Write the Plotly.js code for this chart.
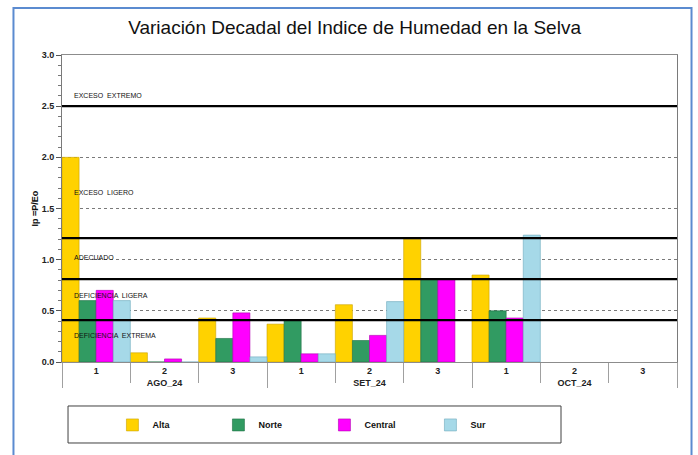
<!DOCTYPE html>
<html>
<head>
<meta charset="utf-8">
<script src="https://cdn.plot.ly/plotly-3.0.1.min.js"></script>
<style>html,body{margin:0;padding:0;background:#fff;} #chart{width:698px;height:455px;}</style>
</head>
<body>
<div id="chart"></div>
<script>
// ---- data ----
var months = ['AGO_24', 'SET_24', 'OCT_24'];
var decades = ['1', '2', '3'];
var seriesNames = ['Alta', 'Norte', 'Central', 'Sur'];
var alta    = [2.00, 0.09, 0.43, 0.37, 0.56, 1.20, 0.85, null, null];
var norte   = [0.60, 0.00, 0.23, 0.41, 0.21, 0.81, 0.50, null, null];
var central = [0.70, 0.03, 0.48, 0.08, 0.26, 0.81, 0.43, null, null];
var sur     = [0.60, 0.00, 0.05, 0.08, 0.59, null, 1.24, null, null];
var thresholds = [2.5, 1.21, 0.81, 0.41];
var zoneLabels = ['EXCESO  EXTREMO', 'EXCESO  LIGERO', 'ADECUADO', 'DEFICIENCIA  LIGERA', 'DEFICIENCIA  EXTREMA'];
var zoneLabelY = [2.60, 1.66, 1.02, 0.65, 0.26];

// ---- build ----
var outer = [], inner = [];
months.forEach(function (m) { decades.forEach(function (d) { outer.push(m); inner.push(d); }); });
var FONT = "'Liberation Sans Narrow', 'Arial Narrow', 'Liberation Sans', sans-serif";
var colors = ['#FFD200', '#319B62', '#FF00FF', '#A6D9E8'];
var lineColors = ['#C9A200', '#1F6E44', '#B000B0', '#6FA9BC'];
var vals = [alta, norte, central, sur];
var traces = vals.map(function (v, i) {
  return {
    type: 'bar', name: seriesNames[i], x: [outer, inner], y: v,
    marker: {color: colors[i], line: {color: lineColors[i], width: 0.6}},
    hoverinfo: 'skip'
  };
});

var shapes = thresholds.map(function (t) {
  return {type: 'line', xref: 'paper', x0: 0, x1: 1, yref: 'y', y0: t, y1: t,
          line: {color: '#000', width: 2.2}, layer: 'above'};
});
// legend box
shapes.push({type: 'rect', xref: 'paper', yref: 'paper', x0: 0.0098, x1: 0.8114, y0: -0.2638, y1: -0.1433,
             line: {color: '#404040', width: 1}, fillcolor: 'rgba(0,0,0,0)'});
// outer chart border
shapes.push({type: 'rect', xref: 'paper', yref: 'paper', x0: -0.0789, x1: 1.0236, y0: -0.35, y1: 1.153,
             line: {color: '#5B8BD0', width: 2}, fillcolor: 'rgba(0,0,0,0)'});

var annotations = zoneLabels.map(function (t, i) {
  return {text: t, xref: 'paper', x: 0.016, xanchor: 'left', yref: 'y', y: zoneLabelY[i], yanchor: 'middle',
          showarrow: false, font: {family: FONT, size: 7, color: '#111'}};
});

var layout = {
  width: 698, height: 455,
  margin: {l: 62, r: 21, t: 55, b: 93},
  paper_bgcolor: '#fff', plot_bgcolor: '#fff',
  font: {family: FONT, color: '#222'},
  title: {text: 'Variación Decadal del Indice de Humedad en la Selva',
          font: {family: FONT, size: 19, color: '#111'}, x: 0.508, xanchor: 'center', y: 0.94, yanchor: 'middle'},
  barmode: 'group', bargap: 0, bargroupgap: 0,
  showlegend: true,
  legend: {orientation: 'h', x: 0.082, xanchor: 'left', y: -0.205, yanchor: 'middle',
           font: {family: FONT, size: 9, color: '#111', weight: 'bold'},
           entrywidth: 61, entrywidthmode: 'pixels', itemclick: false, bgcolor: 'rgba(0,0,0,0)',
           traceorder: 'normal'},
  xaxis: {type: 'multicategory', showline: true, linecolor: '#8c8c8c', linewidth: 1, mirror: true,
          ticks: 'outside', ticklen: 20, tickcolor: '#a0a0a0', showgrid: false,
          showdividers: true, dividercolor: '#a0a0a0', dividerwidth: 1,
          tickfont: {family: FONT, size: 9, color: '#222', weight: 'bold'}},
  yaxis: {range: [0, 3], dtick: 0.5, tickformat: '.1f', showline: true, linecolor: '#7a7a7a', mirror: true,
          ticks: 'outside', ticklen: 5, tickcolor: '#555',
          minor: {dtick: 0.1, ticks: 'outside', ticklen: 3, tickcolor: '#777', showgrid: false},
          showgrid: true, gridcolor: '#7a7a7a', griddash: 'dot', gridwidth: 1, zeroline: false,
          tickfont: {family: FONT, size: 9, color: '#222', weight: 'bold'},
          title: {text: 'Ip =P/Eo', font: {family: FONT, size: 9, color: '#111', weight: 'bold'}, standoff: 1}},
  shapes: shapes,
  annotations: annotations
};

Plotly.newPlot('chart', traces, layout, {displayModeBar: false, staticPlot: true});
</script>
</body>
</html>
